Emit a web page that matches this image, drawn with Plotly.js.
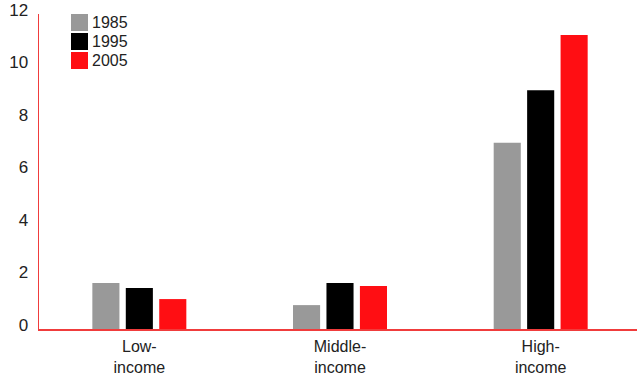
<!DOCTYPE html>
<html><head><meta charset="utf-8">
<script src="https://cdn.plot.ly/plotly-3.0.1.min.js"></script>
<style>html,body{margin:0;padding:0;background:#fff}#chart{width:637px;height:380px}</style>
</head><body><div id="chart"></div>
<script>
const categories = ["Low-<br>income", "Middle-<br>income", "High-<br>income"];
const years = ["1985", "1995", "2005"];
const v1985 = [1.75, 0.91, 7.1];
const v1995 = [1.56, 1.75, 9.1];
const v2005 = [1.14, 1.64, 11.2];
const colors = ["#999999", "#000000", "#ff0e13"];
const series = [v1985, v1995, v2005];
const yTicks = [0, 2, 4, 6, 8, 10, 12];

const font = "Liberation Sans, Arial, sans-serif";
const traces = series.map((vals, i) => ({
  type: "bar", x: categories, y: vals, name: years[i],
  marker: {color: colors[i]}, showlegend: false, hoverinfo: "none"
}));

const shapes = [], annotations = [];
years.forEach((yr, i) => {
  const top = 1.0 - i * 0.0603;
  shapes.push({type: "rect", xref: "paper", yref: "paper",
    x0: 0.0535, x1: 0.0819, y0: top - 0.054, y1: top,
    fillcolor: colors[i], line: {width: 0}});
  annotations.push({xref: "paper", yref: "paper", x: 0.086, y: top - 0.027,
    xanchor: "left", yanchor: "middle", text: yr, showarrow: false,
    font: {family: font, size: 16, color: "#222"}});
});

const layout = {
  width: 637, height: 380,
  margin: {l: 39, r: 0, t: 14, b: 51},
  paper_bgcolor: "#fff", plot_bgcolor: "#fff",
  barmode: "group", bargap: 0.5, bargroupgap: 0.19,
  font: {family: font, size: 16, color: "#222"},
  xaxis: {range: [-0.5, 2.48], showgrid: false, zeroline: false,
    showline: true, linecolor: "#f03c3c", linewidth: 1.5, ticks: "",
    ticklabelstandoff: 2,
    tickfont: {family: font, size: 16, color: "#222"}},
  yaxis: {range: [0, 12], tickvals: yTicks, ticktext: yTicks.map(String),
    showgrid: false, zeroline: false, showline: true, linecolor: "#f03c3c",
    linewidth: 1.5, ticks: "", ticklabelstandoff: 6, ticklabelshift: -4,
    tickfont: {family: font, size: 17, color: "#222"}},
  shapes: shapes, annotations: annotations
};
Plotly.newPlot("chart", traces, layout, {displayModeBar: false, staticPlot: true});
</script></body></html>
